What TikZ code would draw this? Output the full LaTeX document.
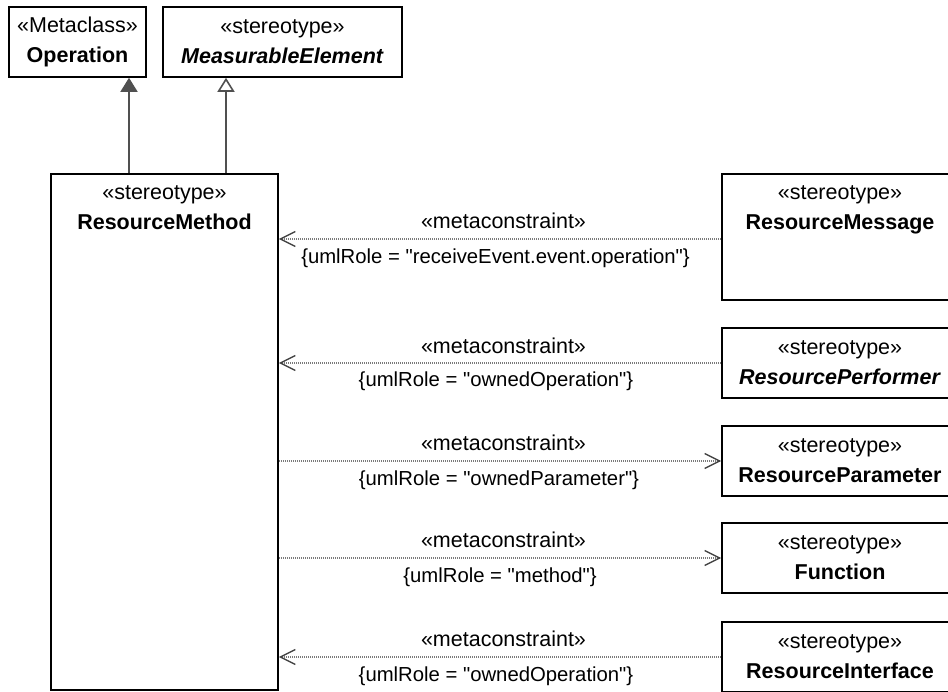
\documentclass[tikz,border=0pt]{standalone}
\usepackage{fontspec}
\setmainfont{Liberation Sans}[Ligatures=TeXOff]
\usetikzlibrary{arrows.meta}
\definecolor{genc}{HTML}{505050}
\definecolor{depc}{HTML}{7A7A7A}
\definecolor{tipc}{HTML}{404040}
\begin{document}
\begin{tikzpicture}[x=1pt,y=-1pt,
  every node/.style={font=\fontsize{21.5pt}{30pt}\selectfont},
  box/.style={draw=black, line width=1.6pt, inner sep=0pt, align=center, minimum width=236pt, minimum height=70pt},
  txt/.style={inner sep=0pt, align=center},
  genline/.style={draw=genc, line width=1.6pt},
  dep/.style={draw=depc, line width=1.1pt, dash pattern=on 1pt off 1pt},
  lbl/.style={inner sep=0pt},
  cons/.style={inner sep=0pt, font=\fontsize{20.3pt}{24pt}\selectfont}
]
\path[use as bounding box] (0,0) rectangle (948,691);
\clip (0,0) rectangle (948,691);

% top boxes
\node[box, minimum width=137pt] (Op) at (77.5,42) {«Metaclass»\\\textbf{Operation}};
\node[box, minimum width=239pt] (ME) at (282.5,42) {«stereotype»\\\textbf{\textit{MeasurableElement}}};

% left tall box
\node[box, minimum width=227pt, minimum height=516pt] (RM) at (164.5,432) {};
\node[txt] (RMt) at (164.5,208) {\fontsize{21.5pt}{28pt}\selectfont «stereotype»\\\textbf{ResourceMethod}};

% right boxes
\node[box, minimum height=126pt] (RMsg) at (840,237) {};
\node[txt] (RMsgt) at (840,210) {«stereotype»\\\textbf{ResourceMessage}};
\node[box] (RP) at (840,363) {«stereotype»\\\textbf{\textit{ResourcePerformer}}};
\node[box] (RPar) at (840,461) {«stereotype»\\\textbf{ResourceParameter}};
\node[box] (Fn) at (840,558) {«stereotype»\\\textbf{Function}};
\node[box] (RI) at (840,657) {«stereotype»\\\textbf{ResourceInterface}};

% generalizations
\coordinate (g1) at (129,0);
\coordinate (g2) at (226,0);
\draw[genline, -{Triangle[length=14pt,width=17pt,fill=genc]}] (RM.north -| g1) -- (Op.south -| g1);
\draw[genline, -{Triangle[open,length=14pt,width=17pt,fill=white]}] (RM.north -| g2) -- (ME.south -| g2);

% dependencies
\tikzset{barb/.style={-{Straight Barb[length=15pt,width=15pt,color=tipc,line width=1.4pt]}}}
\coordinate (m1) at ([yshift=-2pt]RMsg.west);
\draw[dep, barb] (m1) -- (m1 -| RM.east)
  node[lbl, midway, yshift=18pt, xshift=3.5pt] (L1a) {«metaconstraint»}
  node[cons, midway, yshift=-19pt, xshift=-4.5pt] (L1b) {\{umlRole = "receiveEvent.event.operation"\}};
\draw[dep, barb] (RP.west) -- (RP.west -| RM.east)
  node[lbl, midway, yshift=17pt, xshift=3.5pt] (L2a) {«metaconstraint»}
  node[cons, midway, yshift=-18pt, xshift=-4pt] (L2b) {\{umlRole = "ownedOperation"\}};
\draw[dep, barb] (RPar.west -| RM.east) -- (RPar.west)
  node[lbl, midway, yshift=18pt, xshift=3.5pt] (L3a) {«metaconstraint»}
  node[cons, midway, yshift=-19pt, xshift=-1pt] (L3b) {\{umlRole = "ownedParameter"\}};
\draw[dep, barb] (Fn.west -| RM.east) -- (Fn.west)
  node[lbl, midway, yshift=18pt, xshift=3.5pt] (L4a) {«metaconstraint»}
  node[cons, midway, yshift=-19pt] (L4b) {\{umlRole = "method"\}};
\draw[dep, barb] (RI.west) -- (RI.west -| RM.east)
  node[lbl, midway, yshift=18pt, xshift=3.5pt] (L5a) {«metaconstraint»}
  node[cons, midway, yshift=-19pt, xshift=-4pt] (L5b) {\{umlRole = "ownedOperation"\}};
\end{tikzpicture}
\end{document}
